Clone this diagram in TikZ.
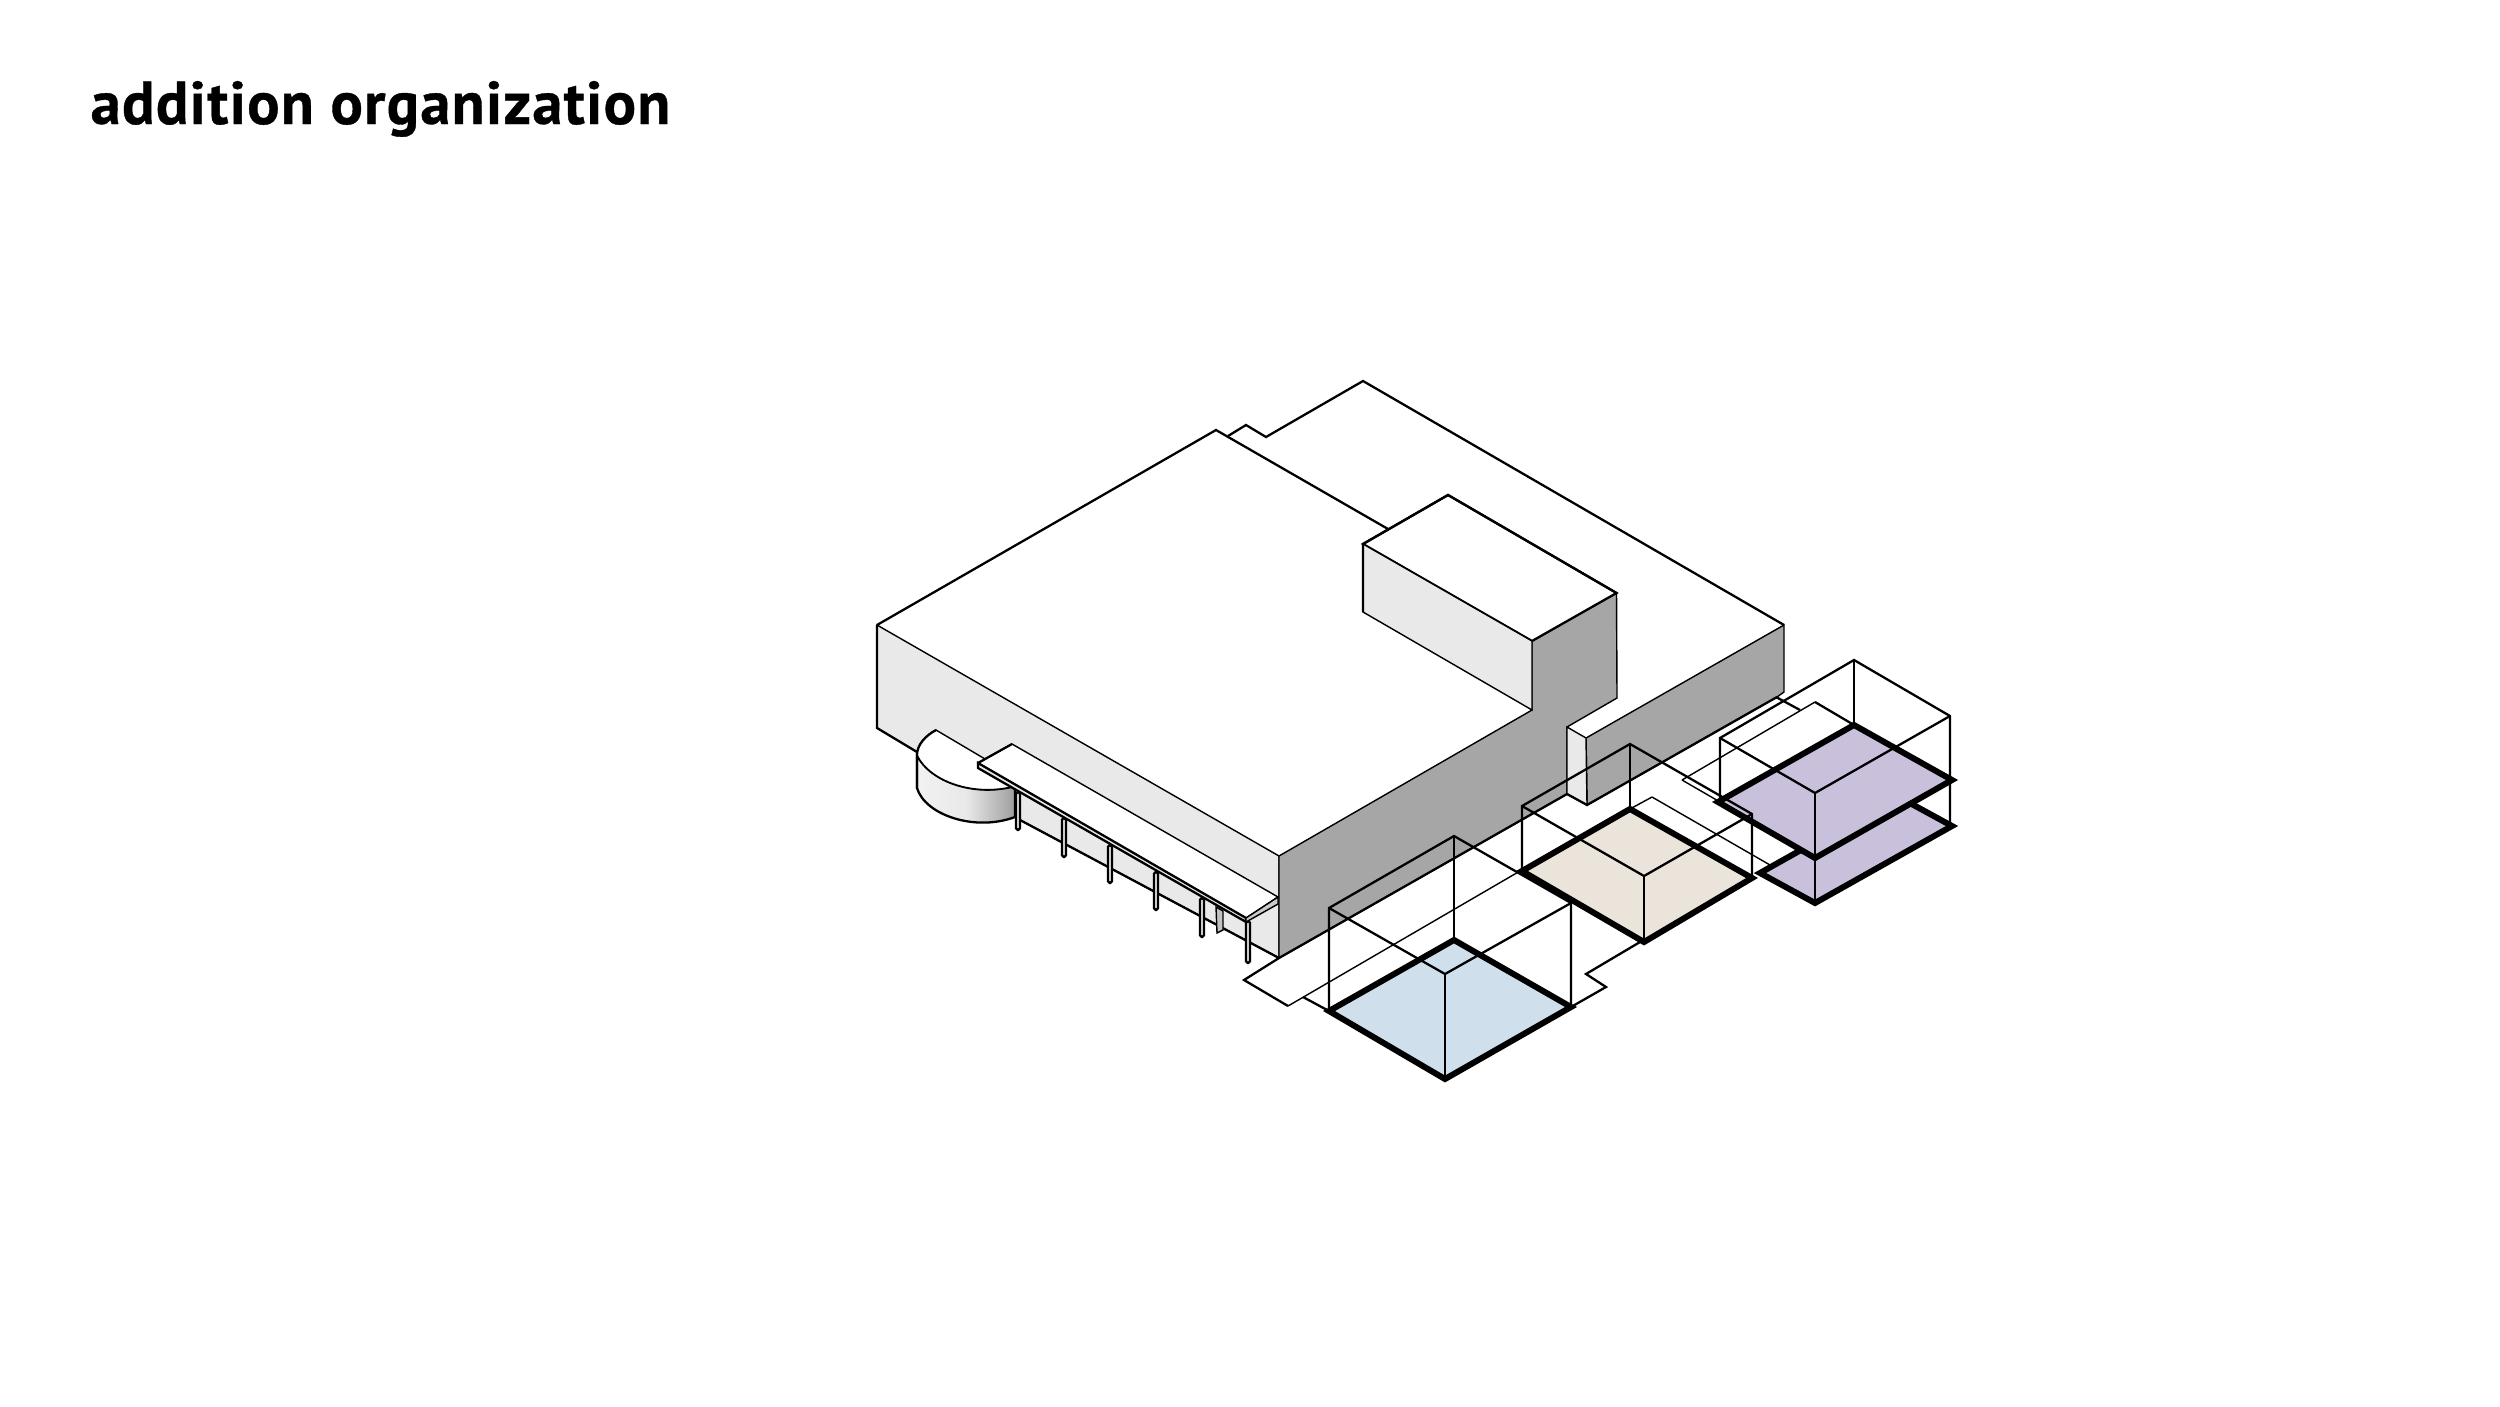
\documentclass[tikz,border=0pt]{standalone}
\usepackage{fontspec}
\setmainfont{PT Sans}
\newfontfamily\titlefont[LetterSpace=2.1,BoldFeatures={FakeBold=0.6,LetterSpace=2.1}]{PT Sans}
\definecolor{massgrey}{HTML}{A6A6A6}
\definecolor{walllight}{HTML}{E9E9E9}
\definecolor{roomblue}{HTML}{CFE0EC}
\definecolor{roombeige}{HTML}{EBE4DB}
\definecolor{roompurple}{HTML}{C9C1DC}
\tikzset{
  edgethin/.style={line width=0.4pt,line join=miter},
  edgemain/.style={line width=0.65pt,line join=miter},
  edgefloor/.style={line width=1.7pt,line join=miter},
}
\begin{document}
\begin{tikzpicture}[x=0.01cm,y=-0.01cm]
  \useasboundingbox (0,0) rectangle (2500,1406);
  \node[anchor=base west,inner sep=0pt,font=\titlefont\bfseries\fontsize{17.2}{20}\selectfont] (title) at (90,124) {addition organization};

  % Rear volume and main roof
  \fill[white] (1228,436) -- (1246,425) -- (1266,437) -- (1363,381) -- (1784,625) -- (1586,738) -- (1567,727) -- (1617,698) -- (1388,529) -- cycle;
  \draw[edgemain] (1228,436) -- (1246,425) -- (1266,437) -- (1363,381) -- (1784,625);
  \draw[edgemain] (877,625) -- (1216,430) -- (1388,529);

  % Shaded faces
  \draw[edgethin,fill=walllight] (877,625) -- (1279,856) -- (1279,958) -- (1020,820) -- (917,752) -- (877,728) -- cycle;
  \draw[edgemain] (877,625) -- (877,728) -- (917,752);
  \draw[edgemain] (1020,820) -- (1279,958);
  \draw[edgethin,fill=massgrey] (1279,856) -- (1532,710) -- (1532,641) -- (1616.5,593) -- (1617,698) -- (1567,727) -- (1567,794) -- (1279,958) -- cycle;
  \draw[edgethin,fill=massgrey] (1586,738) -- (1784,625) -- (1784,692) -- (1777,697) -- (1587,805) -- cycle;
  \draw[edgethin,fill=walllight] (1567,727) -- (1586,738) -- (1587,805) -- (1567,794) -- cycle;
  \draw[edgemain] (1567,794) -- (1587,805) -- (1777,697);
  \draw[edgemain] (1279,958) -- (1567,794);

  % Upper block on the roof
  \draw[edgemain,fill=white] (1363,544) -- (1448,495) -- (1616.5,593) -- (1532,641) -- cycle;
  \draw[edgethin,fill=walllight] (1363,544) -- (1532,641) -- (1532,710) -- (1363,612) -- cycle;
  \draw[edgemain] (1363,612) -- (1363,544) -- (1448,495) -- (1616.5,593);

  % Rotunda
  \draw[edgemain,left color=walllight!60,right color=black!38,middle color=walllight] (917,755) .. controls (930,782) and (975,797) .. (1015,786) -- (1015,817) .. controls (975,832) and (925,815) .. (917,788) -- cycle;
  \draw[edgethin,fill=white] (936,730) -- (985,759) -- (1015,786) .. controls (975,797) and (930,782) .. (917,755) .. controls (917,745) and (925,736) .. (936,730) -- cycle;
  \draw[edgemain] (936,730) .. controls (925,736) and (917,745) .. (917,755) -- (917,788);

  % Canopy
  \draw[edgethin,fill=massgrey!70] (1216,907) -- (1223,911) -- (1223,930) -- (1217,933) -- cycle;
  \foreach \cx/\cy/\cz in {1018/792/830,1064/818/857,1110/845/883,1156/872/910,1202/898/937,1248/921/963}
    \draw[edgemain,fill=walllight,rounded corners=0.5pt] (\cx-2,\cy) rectangle (\cx+2,\cz);
  \draw[edgethin,fill=white] (978,763) -- (1012,744) -- (1278,897) -- (1246,918) -- cycle;
  \draw[edgemain,fill=walllight] (978,763) -- (1246,918) -- (1246,922) -- (978,768) -- cycle;
  \draw[edgethin,fill=massgrey!60] (1246,918) -- (1278,897) -- (1278,904) -- (1246,922) -- cycle;
  \draw[edgemain] (978,763) -- (1012,744);

  % Site outline
  \draw[edgemain] (1279,958) -- (1244,980) -- (1288,1006);
  \draw[edgethin] (1288,1006) -- (1520,871);
  \draw[edgemain] (1303,997) -- (1329,1011);
  \draw[edgemain] (1571,1007) -- (1606,987) -- (1586,974) -- (1640,942);
  \draw[edgethin] (1652,797) -- (1770,865);
  \draw[edgethin] (1630,809) -- (1652,797);
  \draw[edgethin] (1682,780) -- (1815,702);
  \draw[edgethin] (1682,780) -- (1720,802);
  \draw[edgemain] (1815,702) -- (1854,725);
  \draw[edgemain] (1776,697) -- (1800,710);

  % Blue room
  \draw[edgefloor,fill=roomblue] (1329,1011) -- (1454,940) -- (1571,1007) -- (1445,1079) -- cycle;
  \draw[edgemain] (1329,1011) -- (1329,908) -- (1454,836) -- (1571,903) -- (1571,1007);
  \draw[edgemain] (1454,836) -- (1454,940);
  \draw[edgemain] (1329,908) -- (1445,974) -- (1571,903);
  \draw[edgemain] (1445,974) -- (1445,1079);

  % Purple rooms, lower level first
  \draw[edgefloor,fill=roompurple] (1760,873) -- (1897,796) -- (1952,826) -- (1815,903) -- cycle;
  \draw[edgefloor,fill=roompurple] (1718,802) -- (1854,725) -- (1952,780) -- (1815,858) -- cycle;
  \draw[edgemain] (1720,802) -- (1720,738) -- (1854,660) -- (1950,716) -- (1950,826);
  \draw[edgemain] (1854,660) -- (1854,725);
  \draw[edgemain] (1720,738) -- (1815,793) -- (1950,716);
  \draw[edgemain] (1815,793) -- (1815,903);

  % Beige room
  \draw[edgefloor,fill=roombeige] (1522,871) -- (1630,809) -- (1752,878) -- (1644,942) -- cycle;
  \draw[edgemain] (1522,871) -- (1522,806) -- (1630,744) -- (1752,814) -- (1752,878);
  \draw[edgemain] (1630,744) -- (1630,809);
  \draw[edgemain] (1522,806) -- (1644,876) -- (1752,814);
  \draw[edgemain] (1644,876) -- (1644,942);
\end{tikzpicture}
\end{document}
